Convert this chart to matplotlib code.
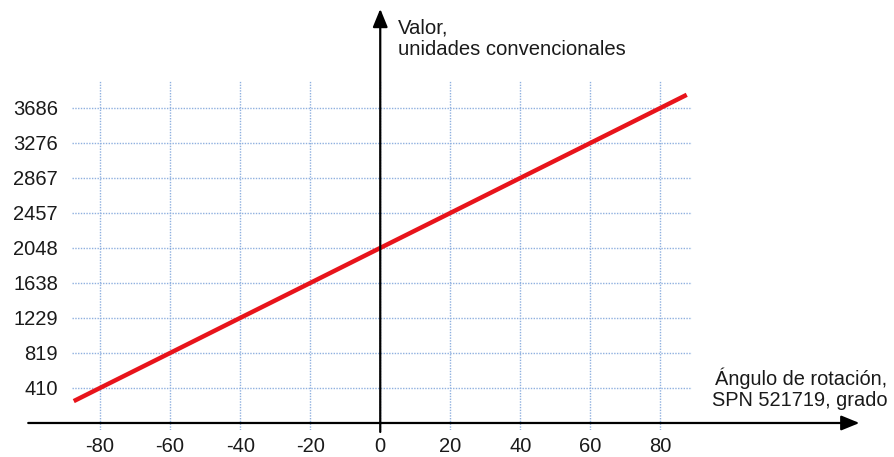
import matplotlib
matplotlib.use("Agg")
import matplotlib.pyplot as plt

plt.rcParams['font.family'] = ['Liberation Sans', 'DejaVu Sans']

# Data
angles = [-87.5, -80, -60, -40, -20, 0, 20, 40, 60, 80, 87.5]
values = [256, 410, 819, 1229, 1638, 2048, 2457, 2867, 3276, 3686, 3840]
x_ticks = [-80, -60, -40, -20, 0, 20, 40, 60, 80]
x_tick_labels = ['-80', '-60', '-40', '-20', '0', '20', '40', '60', '80']
y_ticks = [410, 819, 1229, 1638, 2048, 2457, 2867, 3276, 3686]
y_tick_labels = ['410', '819', '1229', '1638', '2048', '2457', '2867', '3276', '3686']
x_title_lines = ["Ángulo de rotación,", "SPN 521719, grado"]
y_title_lines = ["Valor,", "unidades convencionales"]

W, H = 894, 457
fig = plt.figure(figsize=(W / 100, H / 100), dpi=100)
ax = fig.add_axes([72 / W, 1 - 430 / H, 620 / W, 350 / H])
ax.set_xlim(-88, 89)
ax.set_ylim(-82, 4013)
for s in ax.spines.values():
    s.set_visible(False)

ax.set_xticks(x_ticks)
ax.set_xticklabels(x_tick_labels)
ax.set_yticks(y_ticks)
ax.set_yticklabels(y_tick_labels)
ax.tick_params(axis='both', length=0, labelsize=14.5, colors='#1a1a1a')
ax.tick_params(axis='x', pad=5)
ax.tick_params(axis='y', pad=10)
ax.grid(True, linestyle=(0, (1, 1)), color='#8fb0df', linewidth=1.0)

ax.plot(angles, values, color='#e8141b', linewidth=3.2, solid_capstyle='butt', zorder=3)

# Axes arrows
arrow_kw = dict(arrowstyle='-|>,head_length=1.1,head_width=0.45', color='black',
                lw=1.6, shrinkA=0, shrinkB=0)
ax.annotate('', xy=(136.8, 0), xytext=(-100.5, 0), xycoords='data',
            arrowprops=arrow_kw, annotation_clip=False, zorder=4)
ax.annotate('', xy=(0, 4845), xytext=(0, -105), xycoords='data',
            arrowprops=arrow_kw, annotation_clip=False, zorder=4)

for line, base in zip(y_title_lines, [34, 55]):
    fig.text(398 / W, 1 - base / H, line, ha='left', va='baseline',
             fontsize=14.6, color='#1a1a1a')
for line, base in zip(x_title_lines, [385, 405.5]):
    fig.text(887 / W, 1 - base / H, line, ha='right', va='baseline',
             fontsize=14.4, color='#1a1a1a')

fig.savefig('out.png', dpi=100)
